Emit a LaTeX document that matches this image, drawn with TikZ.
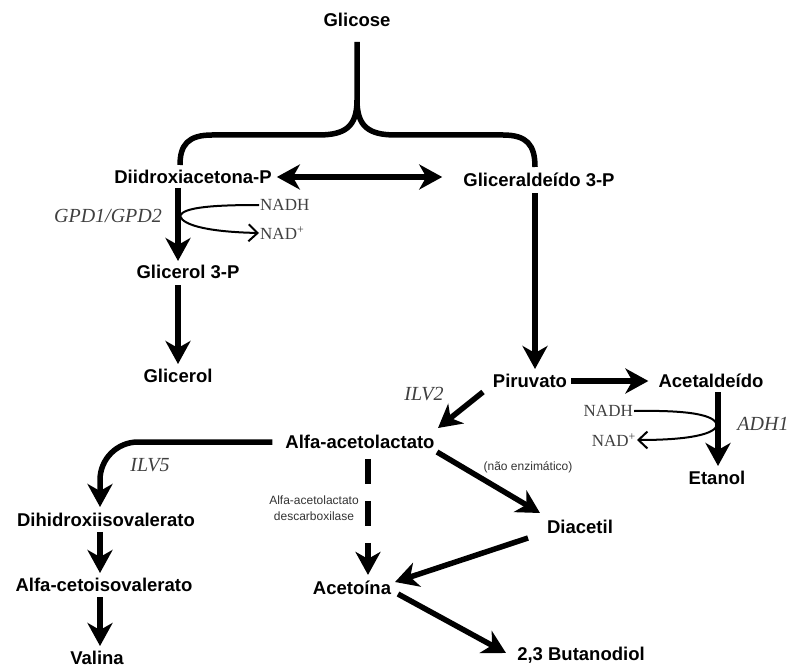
\documentclass[tikz,border=0pt]{standalone}
\usepackage{fontspec}
\setmainfont{Liberation Serif}
\setsansfont{Liberation Sans}
\usetikzlibrary{arrows.meta}
\begin{document}
\begin{tikzpicture}[x=1pt,y=-1pt,
  lab/.style={font=\sffamily\bfseries\fontsize{18.5}{21}\selectfont, inner sep=1pt},
  enz/.style={font=\rmfamily\itshape\fontsize{20}{22}\selectfont, text=black!75, inner sep=1pt},
  cof/.style={font=\rmfamily\fontsize{17}{19}\selectfont, text=black!75, inner sep=1pt},
  note/.style={font=\sffamily\fontsize{12}{16}\selectfont, text=black!80, align=center, inner sep=1pt},
  big/.style={line width=5.5pt, -{Stealth[length=23pt,width=25pt,inset=7pt]}},
  bigboth/.style={line width=5.5pt, {Stealth[length=23pt,width=25pt,inset=7pt]}-{Stealth[length=23pt,width=25pt,inset=7pt]}},
  plain/.style={line width=5.5pt},
  thin/.style={line width=2pt, -{Straight Barb[length=9pt,width=17pt,line width=2pt]}},
  thinplain/.style={line width=2pt},
]
\useasboundingbox (0,0) rectangle (791,668);
\fill[white] (0,0) rectangle (791,668);

% metabolites
\node[lab] (glicose) at (357,20) {Glicose};
\node[lab] (dhap) at (193,177) {Diidroxiacetona-P};
\node[lab] (gap) at (539,180) {Gliceraldeído 3-P};
\node[lab] (g3p) at (188,272) {Glicerol 3-P};
\node[lab] (glicerol) at (178,376) {Glicerol};
\node[lab] (piruvato) at (530,381) {Piruvato};
\node[lab] (acetal) at (711,381) {Acetaldeído};
\node[lab] (etanol) at (717,478) {Etanol};
\node[lab] (alfa) at (360,442) {Alfa-acetolactato};
\node[lab] (dihidroxi) at (106,520) {Dihidroxiisovalerato};
\node[lab] (cetoiso) at (104,585) {Alfa-cetoisovalerato};
\node[lab] (valina) at (97,658) {Valina};
\node[lab] (diacetil) at (580,527) {Diacetil};
\node[lab] (acetoina) at (352,588) {Acetoína};
\node[lab] (butanodiol) at (581,655) {2,3 Butanodiol};

% enzymes, cofactors, notes
\node[enz] (gpd) at (108,216) {GPD1/GPD2};
\node[cof, anchor=west] (nadh1) at (259,205) {NADH};
\node[cof, anchor=west] (nad1) at (259,233) {NAD\textsuperscript{+}};
\node[enz] (ilv2) at (424,394) {ILV2};
\node[enz] (ilv5) at (150,465) {ILV5};
\node[enz] (adh1) at (763,424) {ADH1};
\node[cof, anchor=east] (nadh2) at (634,411) {NADH};
\node[cof, anchor=east] (nad2) at (637,440) {NAD\textsuperscript{+}};
\node[note] (desc) at (314,508) {Alfa-acetolactato\\descarboxilase};
\node[note] (naoenz) at (528,467) {(não enzimático)};

% helper coordinates
\coordinate (bt) at (357,100);
\coordinate (rx) at (535,0);
\coordinate (vx1) at (178,0);
\coordinate (vx2) at (718,0);
\coordinate (vx3) at (100,0);
\coordinate (vx4) at (368,0);

% brace from Glicose
\draw[plain] ([yshift=-14pt]glicose.south) -- (bt)
  .. controls (357,127) and (345,135) .. (318,135) -- (212,135)
  .. controls (188,135) and (180,145) .. (180,165);
\draw[plain] (bt)
  .. controls (357,127) and (369,135) .. (396,135) -- (503,135)
  .. controls (527,135) and (535,145) .. (535,167);

% glycerol branch
\draw[bigboth] ([xshift=4pt]dhap.east) -- ([xshift=-20pt]dhap.east -| gap.west);
\draw[big] ([yshift=-3pt]dhap.south -| vx1) -- ([yshift=3pt]g3p.north -| vx1);
\draw[thinplain] (nadh1.west) .. controls (215,205) and (183,207) .. (180,216);
\draw[thin] (180,216) .. controls (183,226) and (212,232) .. (nad1.west);
\draw[big] ([yshift=-5pt]g3p.south -| vx1) -- ([yshift=4pt]glicerol.north -| vx1);

% glycolysis to pyruvate
\draw[big] ([yshift=-5pt]gap.south -| rx) -- ([yshift=4pt]piruvato.north -| rx);
\draw[big] ([xshift=3pt]piruvato.east) -- ([xshift=-9pt]acetal.west);
\draw[big] ([yshift=-3pt]acetal.south -| vx2) -- ([yshift=4pt]etanol.north -| vx2);
\draw[thinplain] (nadh2.east) .. controls (690,410) and (715,415) .. (717,425);
\draw[thin] (717,425) .. controls (715,434) and (690,440) .. (nad2.east);

% acetolactate branch
\draw[big] (483,392) -- (438,428);
\draw[big, rounded corners=38pt] ([xshift=-12pt]alfa.west) -- (alfa.west -| vx3) -- ([yshift=5pt]dihidroxi.north -| vx3);
\draw[big] ([yshift=-4pt]dihidroxi.south -| vx3) -- ([yshift=4pt]cetoiso.north -| vx3);
\draw[big] ([yshift=-4pt]cetoiso.south -| vx3) -- ([yshift=4pt]valina.north -| vx3);
\draw[big, dash pattern=on 25pt off 17pt] ([yshift=-9pt]alfa.south -| vx4) -- ([yshift=5pt]acetoina.north -| vx4);
\draw[big] (437,452) -- (540,513);
\draw[big] (528,538) -- (395,582);
\draw[big] (398,594) -- (506,653);
\end{tikzpicture}
\end{document}
